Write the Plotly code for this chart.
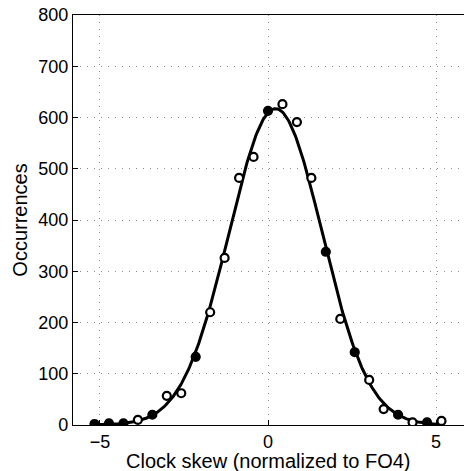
import numpy as np
import plotly.graph_objects as go

# Histogram bin centres (clock skew, normalized to FO4) and counts
skew = [-5.16, -4.73, -4.30, -3.87, -3.44, -3.01, -2.58, -2.15, -1.72, -1.29,
        -0.86, -0.43, 0.00, 0.43, 0.86, 1.29, 1.72, 2.15, 2.58, 3.01,
        3.44, 3.87, 4.30, 4.73, 5.16]
occurrences = [2, 3, 3, 10, 20, 57, 62, 133, 220, 326,
               482, 523, 613, 626, 591, 482, 338, 207, 142, 88,
               31, 20, 5, 5, 8]
x_ticks = [-5, 0, 5]
x_tick_labels = ["\u22125", "0", "5"]
y_ticks = [0, 100, 200, 300, 400, 500, 600, 700, 800]

# Gaussian fit from the histogram moments
xs = np.array(skew)
ys = np.array(occurrences, dtype=float)
dx = xs[1] - xs[0]
mu = (xs * ys).sum() / ys.sum()
sigma = np.sqrt(((xs - mu) ** 2 * ys).sum() / ys.sum())
amp = ys.sum() * dx / (sigma * np.sqrt(2 * np.pi))
xf = np.linspace(xs.min(), xs.max(), 300)
yf = amp * np.exp(-0.5 * ((xf - mu) / sigma) ** 2)

filled = [1, 1, 1, 0, 1, 0, 0, 1, 0, 0, 0, 0, 1, 0, 0, 0, 1, 0, 1, 0, 0, 1, 0, 1, 0]
fills = ["black" if f else "white" for f in filled]

font = dict(family="Liberation Sans, Arial, sans-serif", size=18, color="black")
title_font = dict(family="Liberation Sans, Arial, sans-serif", size=20, color="black")

fig = go.Figure()
fig.add_trace(go.Scatter(x=xf, y=yf, mode="lines",
                         line=dict(color="black", width=3), hoverinfo="skip"))
fig.add_trace(go.Scatter(x=skew, y=occurrences, mode="markers",
                         marker=dict(symbol="circle", size=8, color=fills,
                                     line=dict(color="black", width=2.2))))

axis_common = dict(showgrid=True, gridcolor="#8a8a8a", griddash="1px,6px", gridwidth=1,
                   showline=True, linecolor="black", linewidth=1.2,
                   ticks="inside", ticklen=5, tickcolor="black",
                   zeroline=False, tickfont=font)
fig.update_layout(
    width=464, height=471,
    margin=dict(l=73, r=0, t=15, b=46),
    paper_bgcolor="white", plot_bgcolor="white",
    showlegend=False,
    font=font,
    xaxis=dict(range=[-5.8, 5.83], tickvals=x_ticks, ticktext=x_tick_labels,
               mirror=True, **axis_common),
    yaxis=dict(range=[0, 800], tickvals=y_ticks,
               title=dict(text="Occurrences", font=title_font, standoff=5),
               **axis_common),
    annotations=[dict(text="Clock skew (normalized to FO4)", xref="paper", yref="paper",
                      x=0.5, y=0, yshift=-36, xanchor="center", yanchor="middle",
                      showarrow=False, font=title_font)],
)
fig.write_html("out.html")
